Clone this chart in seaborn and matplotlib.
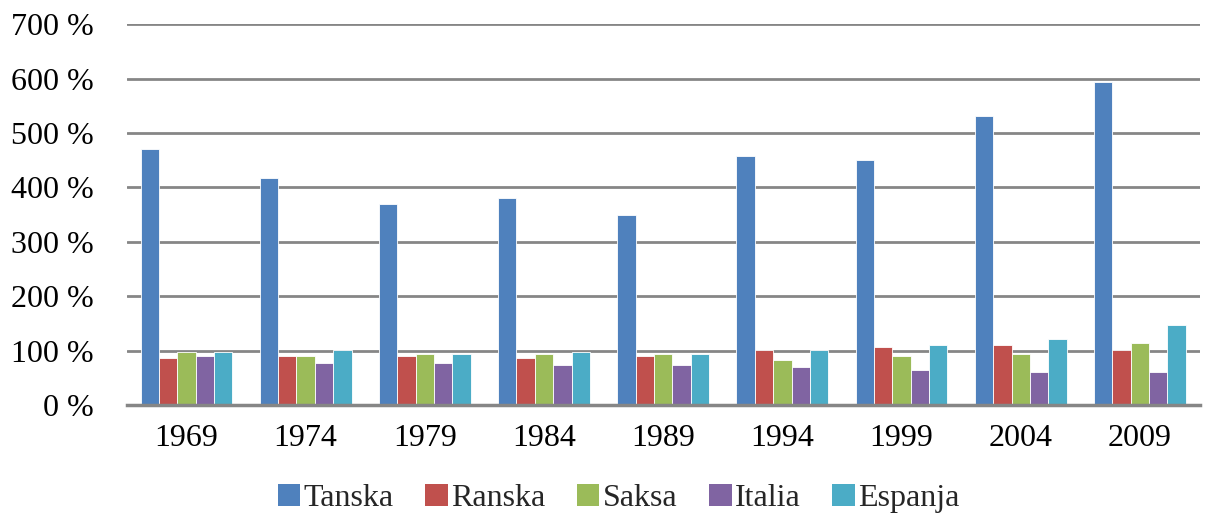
import matplotlib
matplotlib.use("Agg")
import matplotlib.pyplot as plt
import seaborn as sns
import pandas as pd
from matplotlib.patches import Patch

years = ["1969", "1974", "1979", "1984", "1989", "1994", "1999", "2004", "2009"]
tanska = [470, 418, 369, 381, 349, 458, 450, 532, 593]
ranska = [86, 90, 90, 86, 90, 101, 106, 110, 101]
saksa = [98, 90, 94, 94, 94, 82, 90, 94, 114]
italia = [90, 78, 78, 73, 73, 70, 65, 61, 61]
espanja = [97, 102, 94, 97, 94, 101, 110, 122, 147]
series_names = ["Tanska", "Ranska", "Saksa", "Italia", "Espanja"]
colors = ["#4F81BD", "#C0504D", "#9BBB59", "#8064A2", "#4BACC6"]
yticks = [0, 100, 200, 300, 400, 500, 600, 700]

rows = []
for name, vals in zip(series_names, [tanska, ranska, saksa, italia, espanja]):
    for y, v in zip(years, vals):
        rows.append({"Vuosi": y, "Maa": name, "Arvo": v})
df = pd.DataFrame(rows)

sns.set_style("white")
plt.rcParams['font.family'] = ['Liberation Serif', 'DejaVu Serif']

fig = plt.figure(figsize=(12.08, 5.14), dpi=100)
ax = fig.add_axes([0.105, 0.212, 0.888, 0.741])

sns.barplot(data=df, x="Vuosi", y="Arvo", hue="Maa", order=years,
            hue_order=series_names, palette=colors, width=0.77,
            saturation=1, ax=ax, legend=False, errorbar=None,
            edgecolor="white", linewidth=0.6)

ax.set_ylim(0, 700)
ax.set_xlim(-0.5, 8.5)
ax.set_yticks(yticks)
ax.set_yticklabels([f"{t} %" for t in yticks])
ax.set_xlabel("")
ax.set_ylabel("")
ax.set_axisbelow(True)
ax.yaxis.grid(True, color="#868686", linewidth=2)
ax.xaxis.grid(False)
for s in ["left", "right", "top"]:
    ax.spines[s].set_visible(False)
ax.spines["bottom"].set_color("#868686")
ax.spines["bottom"].set_linewidth(2.5)
ax.tick_params(axis="both", length=0, labelsize=23, colors="black")
ax.tick_params(axis="y", pad=24)
ax.tick_params(axis="x", pad=14)

handles = [Patch(facecolor=c, edgecolor="none") for c in colors]
fig.legend(handles, series_names, loc="center", bbox_to_anchor=(0.512, 0.03),
           ncol=5, frameon=False, fontsize=23, handlelength=0.7,
           handleheight=0.7, handletextpad=0.1, columnspacing=1.0)

fig.savefig("out.png", dpi=100, facecolor="white")
